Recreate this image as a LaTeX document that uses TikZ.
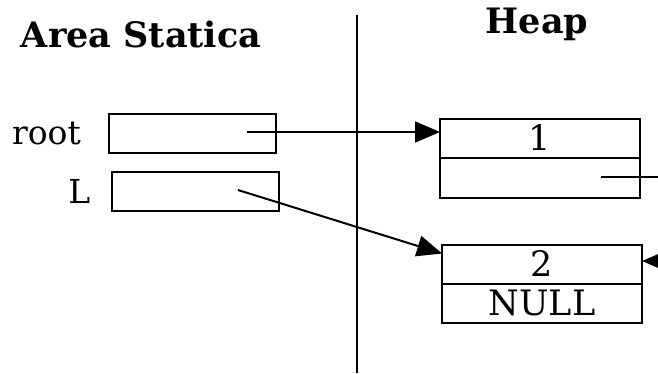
\documentclass[tikz,border=0pt]{standalone}
\usepackage{fontspec}
\setmainfont{DejaVu Serif}
\usepackage{tikz}
\usetikzlibrary{arrows.meta,positioning}
\tikzset{
  cell/.style = {draw=black, line width=2pt, rectangle, inner sep=0pt,
    outer sep=0pt, minimum width=200pt, minimum height=39pt,
    font=\fontsize{35}{36}\selectfont},% cella della heap
  var/.style = {draw=black, line width=2pt, rectangle, inner sep=0pt,
    minimum width=167pt, minimum height=39pt},% variabile statica
  lbl/.style = {inner sep=0pt, font=\fontsize{33}{35}\selectfont},
  title/.style = {inner sep=0pt, anchor=base, font=\bfseries\fontsize{35}{37}\selectfont},
  ptr/.style = {line width=2pt, -{Triangle[length=25pt,width=21pt]}}
}
\begin{document}
\begin{tikzpicture}[x=1pt,y=-1pt]
  \useasboundingbox (0,0) rectangle (658,373);
  % titoli e separatore
  \node [title] (area) at (141,47) {Area Statica};
  \node [title] (heap) at (537,33) {Heap};
  \draw [line width=2pt] (357,15) -- (357,373);
  % area statica
  \node [var] (root) at (192.5,133.5) {};
  \node [var] (L) at (195,191) {};
  \node [lbl, left=27pt of root] (rootlbl) {root};
  \node [lbl, left=20pt of L] (Llbl) {L};
  % heap
  \node [cell] (n1) at (540,138) {1};
  \node [cell, below=0pt of n1, minimum height=40pt] (n1next) {};
  \node [cell] (n2) at (542,264) {2};
  \node [cell, below=0pt of n2] (n2next) {NULL};
  % puntatori
  \coordinate (rootptr) at (247,132);
  \coordinate (Lptr) at (238,190);
  \coordinate (n1ptr) at (601,177);
  \coordinate (out1) at (660,177);
  \coordinate (in2) at (684,261);
  \draw [ptr] (rootptr) -- (rootptr -| n1.west);
  \draw [ptr] (Lptr) -- ([yshift=-9pt]n2.north west);
  \draw [line width=2pt] (n1ptr) -- (out1);
  \draw [ptr] (in2) -- (in2 -| n2.east);
\end{tikzpicture}
\end{document}
